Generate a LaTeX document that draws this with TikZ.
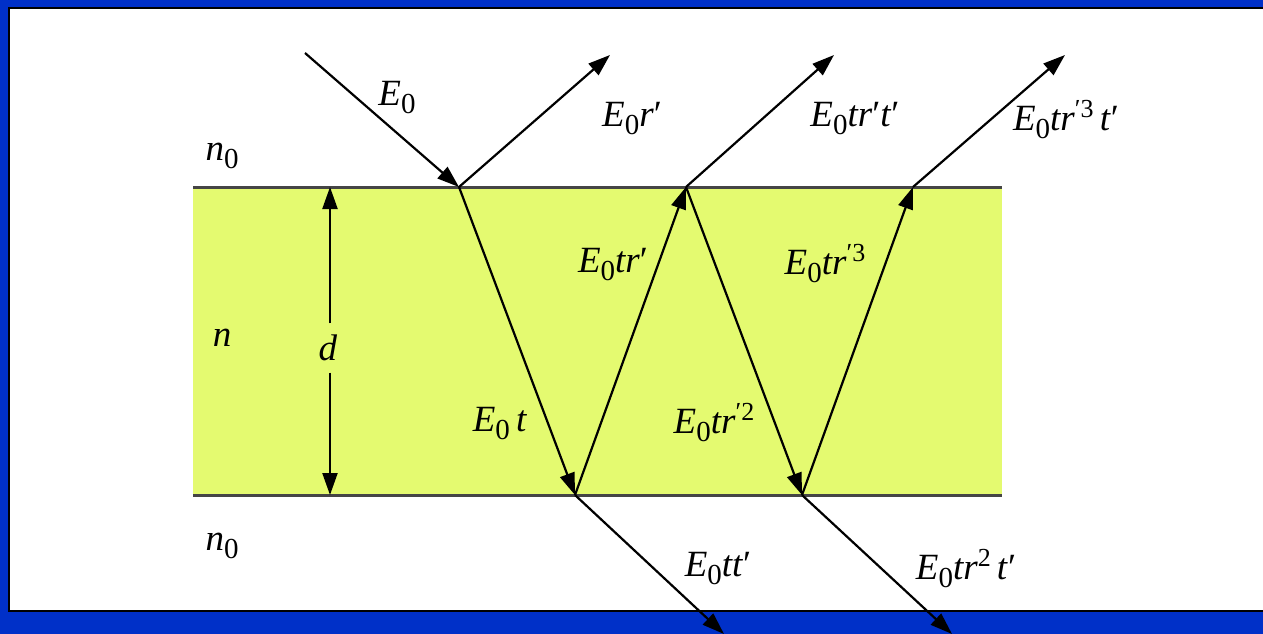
\documentclass[tikz,border=0pt]{standalone}
\usepackage{fontspec}
\setmainfont{Liberation Serif}
\usetikzlibrary{arrows.meta}
\definecolor{frameblue}{HTML}{0030C8}
\definecolor{slabfill}{HTML}{E4FA70}
\definecolor{edgegray}{HTML}{454545}
\newcommand\lowr[1]{\raisebox{-8pt}{\fontsize{29}{29}\selectfont #1}}
\newcommand\highr[1]{\raisebox{13pt}{\fontsize{26}{26}\selectfont #1}}
\newcommand\Ez{\textit{E}\lowr{0}}
\newcommand\pr{′}
\tikzset{
  ray/.style={line width=2.2pt, -{Triangle[length=22pt,width=15pt]}},
  dim/.style={line width=2.2pt, -{Triangle[length=22pt,width=15pt]}},
  lbl/.style={inner sep=0pt, font=\fontsize{37}{42}\selectfont},
  edge/.style={draw=edgegray, line width=3pt}
}
\begin{document}
\begin{tikzpicture}[x=1pt,y=-1pt]
\useasboundingbox (0,0) rectangle (1263,634);
% frame
\fill[frameblue] (0,0) rectangle (1263,634);
\filldraw[fill=white, draw=black, line width=1.2pt] (9,8) rectangle (1264,611);
% slab
\fill[slabfill] (193,187) rectangle (1002,495);
\draw[edge] (193,187) -- (1002,187);
\draw[edge] (193,495) -- (1002,495);
% points
\coordinate (s0) at (305,53);
\coordinate (p1) at (459,187);
\coordinate (q1) at (575,495);
\coordinate (p2) at (686,187);
\coordinate (q2) at (802,495);
\coordinate (p3) at (913,187);
\coordinate (r0) at (610,55);
\coordinate (r1) at (834,55);
\coordinate (r2) at (1065,55);
\coordinate (t1) at (724,634);
\coordinate (t2) at (952,634);
\coordinate (dtop) at (330,187);
\coordinate (dbot) at (330,495);
% rays
\draw[ray] (s0) -- (p1);
\draw[ray] (p1) -- (r0);
\draw[ray] (p1) -- (q1);
\draw[ray] (q1) -- (p2);
\draw[ray] (p2) -- (r1);
\draw[ray] (p2) -- (q2);
\draw[ray] (q2) -- (p3);
\draw[ray] (p3) -- (r2);
\draw[ray] (q1) -- (t1);
\draw[ray] (q2) -- (t2);
% thickness
\node[lbl, minimum height=49pt] (dlab) at (328,348) {\textit{d}};
\draw[dim] (dlab.north -| dtop) -- (dtop);
\draw[dim] (dlab.south -| dbot) -- (dbot);
% media labels
\node[lbl] (n0a) at (222,156) {\textit{n}\lowr{0}};
\node[lbl] (n1) at (222,338) {\textit{n}};
\node[lbl] (n0b) at (222,546) {\textit{n}\lowr{0}};
% amplitude labels
\node[lbl] (l0) at (397,98) {\Ez};
\node[lbl] (l1) at (632,119) {\Ez\textit{r}\pr};
\node[lbl] (l2) at (855,119) {\Ez\textit{tr}\pr\textit{t}\pr};
\node[lbl] (l3) at (1066,120) {\Ez\textit{tr}\highr{\pr3}\,\textit{t}\pr};
\node[lbl] (l4) at (613,265) {\Ez\textit{tr}\pr};
\node[lbl] (l5) at (825,264) {\Ez\textit{tr}\highr{\pr3}};
\node[lbl] (l6) at (500,424) {\Ez\,\textit{t}};
\node[lbl] (l7) at (714,423) {\Ez\textit{tr}\highr{\pr2}};
\node[lbl] (l8) at (718,569) {\Ez\textit{tt}\pr};
\node[lbl] (l9) at (966,569) {\Ez\textit{tr}\highr{2}\,\textit{t}\pr};
\end{tikzpicture}
\end{document}
